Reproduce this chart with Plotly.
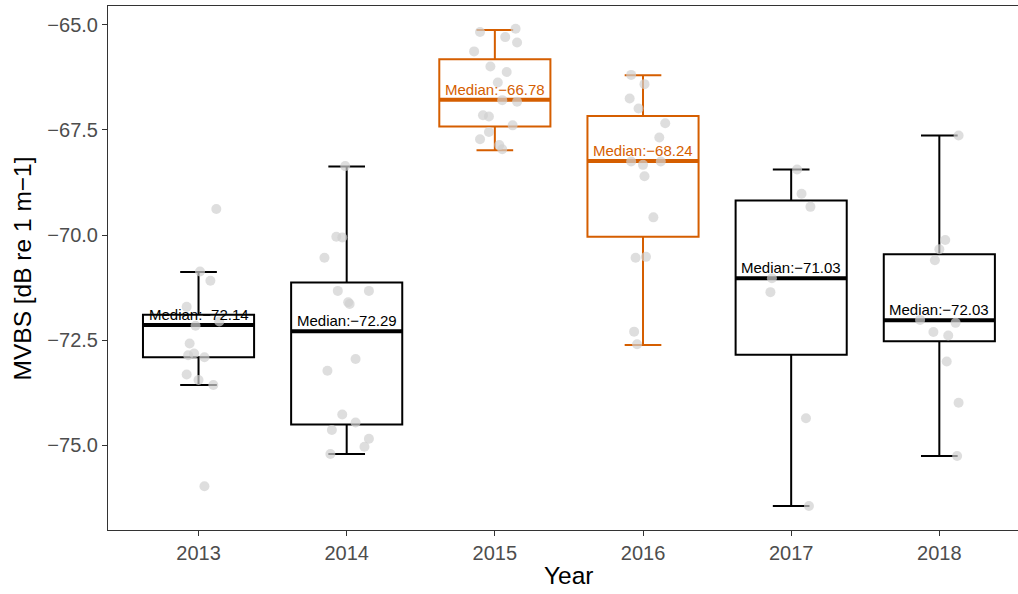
import plotly.graph_objects as go

# Years on the x axis
years = ["2013", "2014", "2015", "2016", "2017", "2018"]
highlight_years = ["2015", "2016"]

# Box statistics per year (dB re 1 m-1)
medians = [-72.14, -72.29, -66.78, -68.24, -71.03, -72.03]
q1 = [-72.91, -74.51, -67.42, -70.04, -72.85, -72.53]
q3 = [-71.90, -71.13, -65.82, -67.17, -69.18, -70.46]
lower_whisker = [-73.57, -75.21, -67.98, -72.62, -76.45, -75.26]
upper_whisker = [-70.88, -68.37, -65.12, -66.20, -68.44, -67.63]

# Individual MVBS observations per year, with their horizontal jitter (category units)
mvbs_2013 = [-69.38, -70.87, -71.09, -71.71, -72.16, -72.06, -72.58, -72.86, -72.82,
             -72.91, -73.32, -73.45, -73.57, -75.98]
jitter_2013 = [0.12, 0.01, 0.08, -0.08, -0.02, 0.14, -0.06, -0.07, -0.03,
               0.04, -0.08, 0.00, 0.10, 0.04]

mvbs_2014 = [-68.36, -70.04, -70.06, -70.54, -71.33, -71.33, -71.60, -71.64, -72.95,
             -73.23, -74.27, -74.46, -74.64, -74.85, -75.04, -75.21]
jitter_2014 = [-0.01, -0.07, -0.03, -0.15, -0.06, 0.15, 0.01, 0.02, 0.06,
               -0.13, -0.03, 0.06, -0.10, 0.15, 0.12, -0.11]

mvbs_2015 = [-65.17, -65.09, -65.29, -65.42, -65.63, -65.99, -66.12, -66.37, -66.79,
             -66.83, -67.15, -67.18, -67.39, -67.55, -67.72, -67.86, -67.96]
jitter_2015 = [-0.10, 0.14, 0.07, 0.15, -0.14, -0.03, 0.08, 0.02, 0.05,
               0.15, -0.08, -0.04, 0.12, -0.04, -0.10, 0.03, 0.05]

mvbs_2016 = [-66.19, -66.41, -66.75, -66.99, -67.34, -67.68, -68.25, -68.33, -68.25,
             -68.60, -69.58, -70.54, -70.52, -72.30, -72.60]
jitter_2016 = [-0.08, 0.01, -0.09, -0.03, 0.15, 0.11, -0.08, 0.00, 0.12,
               0.01, 0.07, -0.05, 0.02, -0.06, -0.04]

mvbs_2017 = [-68.44, -69.02, -69.33, -71.03, -71.36, -74.36, -76.45]
jitter_2017 = [0.04, 0.07, 0.13, -0.13, -0.14, 0.10, 0.12]

mvbs_2018 = [-67.63, -70.12, -70.34, -70.60, -72.02, -72.09, -72.31, -72.39, -73.01,
             -73.99, -75.26]
jitter_2018 = [0.13, 0.04, 0.00, -0.03, -0.13, 0.11, -0.04, 0.06, 0.05, 0.13, 0.12]

observations = [mvbs_2013, mvbs_2014, mvbs_2015, mvbs_2016, mvbs_2017, mvbs_2018]
jitters = [jitter_2013, jitter_2014, jitter_2015, jitter_2016, jitter_2017, jitter_2018]

BOX_WIDTH = 0.75
ORANGE = "#D55E00"
BLACK = "#000000"
FONT = "Liberation Sans, Arial, Helvetica, sans-serif"

fig = go.Figure()

for i, year in enumerate(years):
    colour = ORANGE if year in highlight_years else BLACK
    # Box and whiskers from the precomputed statistics
    fig.add_trace(go.Box(
        x=[i], q1=[q1[i]], median=[medians[i]], q3=[q3[i]],
        lowerfence=[lower_whisker[i]], upperfence=[upper_whisker[i]],
        width=BOX_WIDTH, whiskerwidth=0.33, boxpoints=False,
        line=dict(color=colour, width=2), fillcolor="white",
        showlegend=False, hoverinfo="skip",
    ))
    # Heavier median bar
    fig.add_trace(go.Scatter(
        x=[i - BOX_WIDTH / 2, i + BOX_WIDTH / 2], y=[medians[i], medians[i]],
        mode="lines", line=dict(color=colour, width=4),
        showlegend=False, hoverinfo="skip",
    ))
    # Median label
    label = f"Median:{medians[i]:.2f}".replace("-", "\u2212")
    fig.add_annotation(
        x=i, y=medians[i], text=label, showarrow=False,
        xanchor="center", yanchor="bottom", yshift=0,
        font=dict(family=FONT, size=15, color=colour),
    )

# Jittered observations on top of the boxes
for i, (vals, jit) in enumerate(zip(observations, jitters)):
    fig.add_trace(go.Scatter(
        x=[i + j for j in jit], y=vals, mode="markers",
        marker=dict(size=10, color="rgba(208,208,208,0.7)", line=dict(width=0)),
        showlegend=False, hoverinfo="skip",
    ))

# Axis titles, centred on the full panel
fig.add_annotation(
    x=(len(years) - 1) / 2, xref="x", y=-0.087, yref="paper",
    text="Year", showarrow=False, xanchor="center", yanchor="middle",
    font=dict(family=FONT, size=24.5, color="black"),
)
fig.add_annotation(
    x=-0.094, xref="paper", y=0.5, yref="paper", textangle=-90,
    text="MVBS [dB re 1 m\u22121]", showarrow=False, xanchor="center", yanchor="middle",
    font=dict(family=FONT, size=24.5, color="black"),
)

axis_common = dict(
    showgrid=False, zeroline=False, showline=True,
    linecolor="#333333", linewidth=1.1,
    ticks="outside", ticklen=5, tickwidth=1.1, tickcolor="#333333",
    tickfont=dict(family=FONT, size=20, color="#4D4D4D"),
)

fig.update_layout(
    width=1018, height=594,
    margin=dict(l=108, r=0, t=6, b=64),
    paper_bgcolor="white", plot_bgcolor="white",
    xaxis=dict(
        **axis_common,
        range=[-0.611, 5.531], tickmode="array",
        tickvals=list(range(len(years))), ticktext=years,
        mirror=True,
    ),
    yaxis=dict(
        **axis_common,
        range=[-77.02, -64.55], tickmode="array",
        tickvals=[-75.0, -72.5, -70.0, -67.5, -65.0], tickformat=".1f",
    ),
)

fig.write_html("out.html")
